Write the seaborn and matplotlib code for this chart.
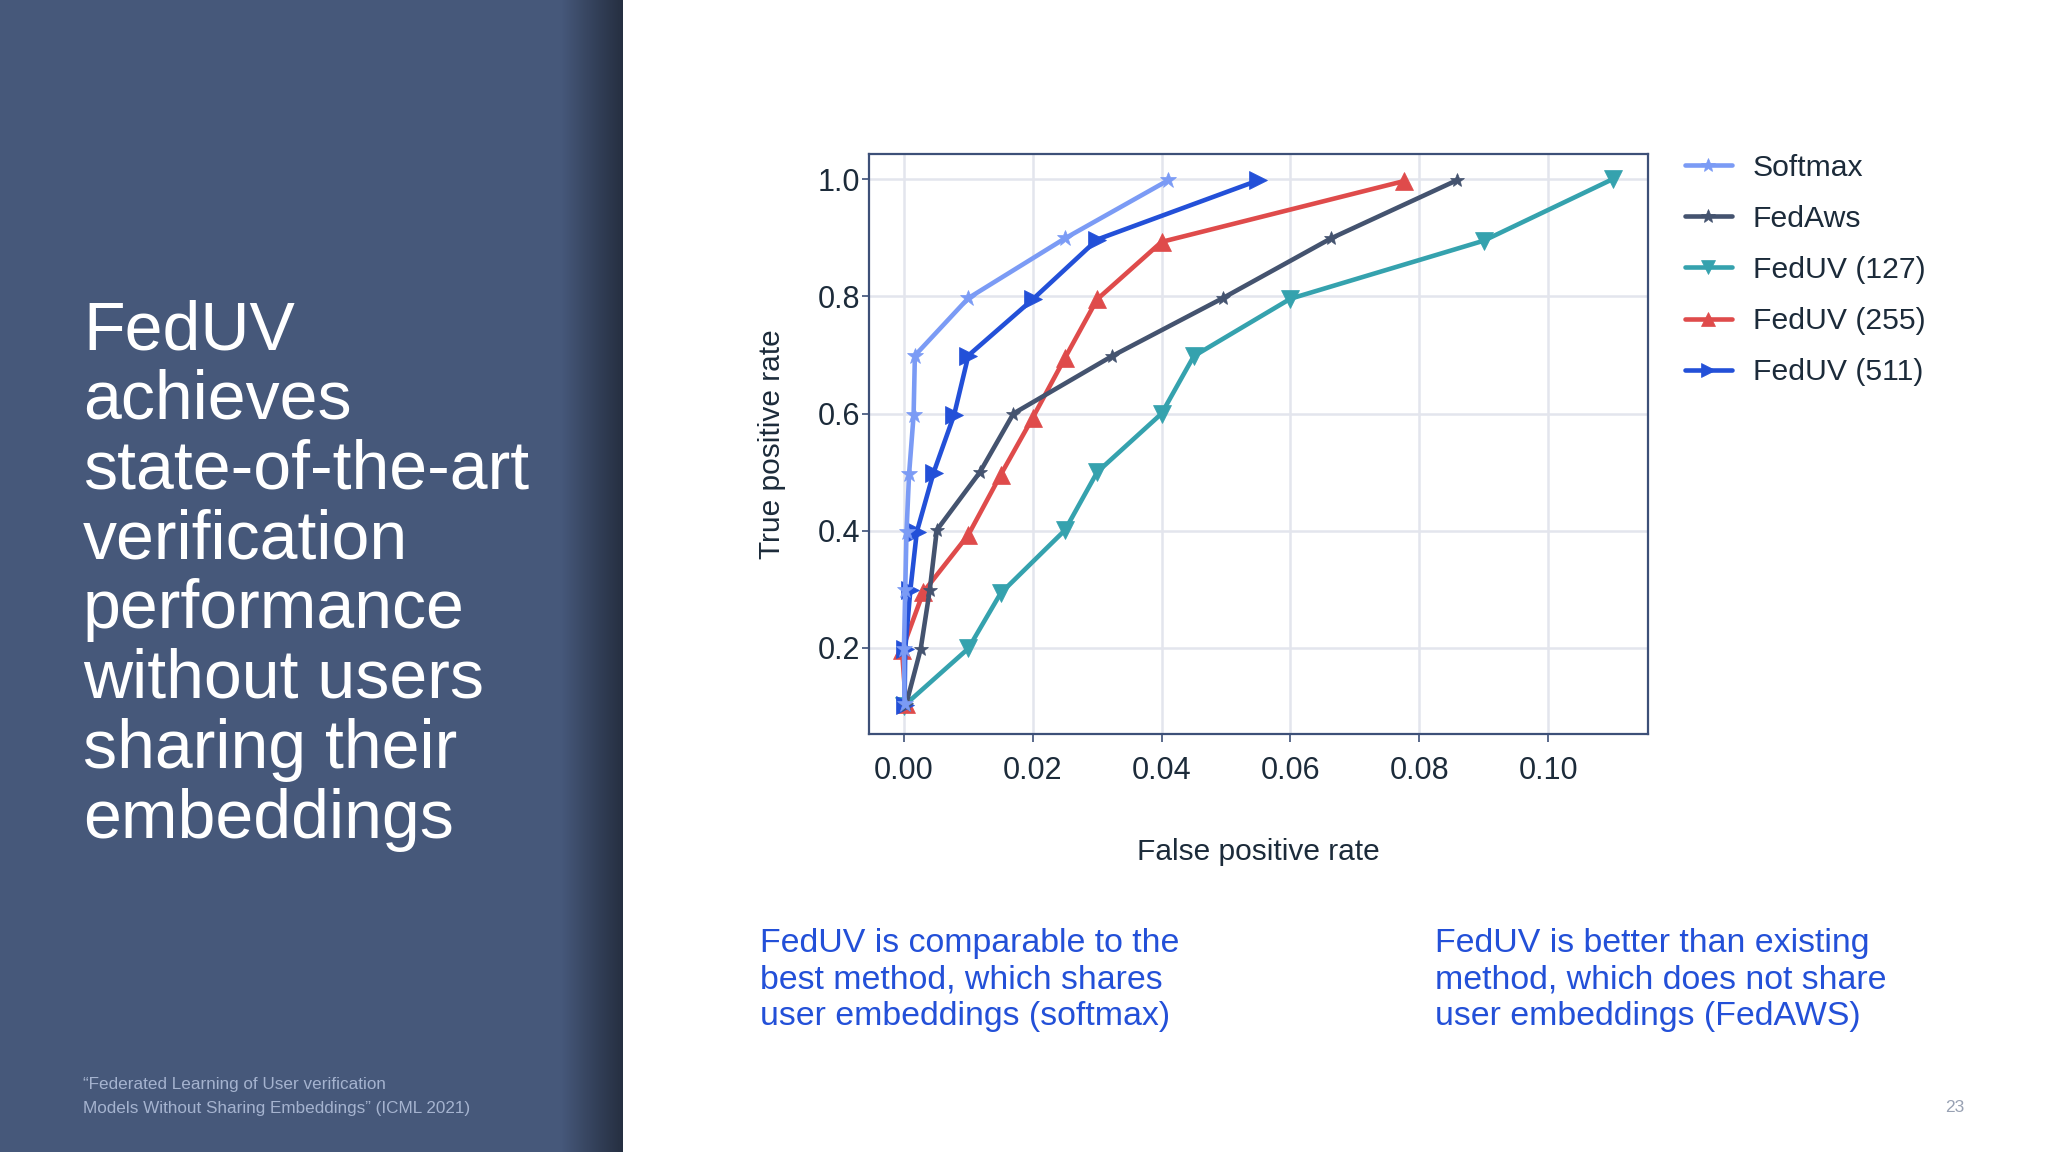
"""FedUV slide: ROC curves with a dark side panel."""

import numpy as np
import pandas as pd
import matplotlib.pyplot as plt
import seaborn as sns

FIG_W, FIG_H = 2048, 1152

# ROC points
softmax_fpr = [0.0001, 0.0000, 0.0002, 0.0004, 0.0008, 0.0015, 0.0017, 0.0100, 0.0250, 0.0410]
softmax_tpr = [0.104, 0.198, 0.298, 0.398, 0.497, 0.597, 0.699, 0.797, 0.899, 0.998]
fedaws_fpr = [0.0003, 0.0026, 0.0040, 0.0051, 0.0118, 0.0170, 0.0323, 0.0495, 0.0663, 0.0858]
fedaws_tpr = [0.102, 0.198, 0.298, 0.401, 0.500, 0.600, 0.698, 0.797, 0.899, 0.998]
feduv127_fpr = [0.0000, 0.0100, 0.0150, 0.0250, 0.0300, 0.0400, 0.0450, 0.0600, 0.0900, 0.1100]
feduv127_tpr = [0.101, 0.199, 0.293, 0.401, 0.500, 0.600, 0.698, 0.796, 0.895, 1.000]
feduv255_fpr = [0.0003, -0.0003, 0.0030, 0.0100, 0.0150, 0.0200, 0.0250, 0.0300, 0.0400, 0.0777]
feduv255_tpr = [0.104, 0.196, 0.295, 0.393, 0.495, 0.593, 0.695, 0.795, 0.893, 0.997]
feduv511_fpr = [0.0001, 0.0002, 0.0010, 0.0020, 0.0046, 0.0078, 0.0100, 0.0200, 0.0300, 0.0550]
feduv511_tpr = [0.102, 0.198, 0.299, 0.398, 0.499, 0.598, 0.699, 0.795, 0.897, 0.998]

series_names = ["Softmax", "FedAws", "FedUV (127)", "FedUV (255)", "FedUV (511)"]
series_fpr = [softmax_fpr, fedaws_fpr, feduv127_fpr, feduv255_fpr, feduv511_fpr]
series_tpr = [softmax_tpr, fedaws_tpr, feduv127_tpr, feduv255_tpr, feduv511_tpr]
series_colors = ["#7b9bf5", "#44536f", "#35a2ae", "#df4b4b", "#2350d8"]
series_markers = ["*", "*", "v", "^", ">"]
series_sizes = [12, 10.5, 12.5, 12.5, 12.5]

x_ticks = [0.00, 0.02, 0.04, 0.06, 0.08, 0.10]
y_ticks = [0.2, 0.4, 0.6, 0.8, 1.0]

title_lines = ["FedUV", "achieves", "state-of-the-art", "verification",
               "performance", "without users", "sharing their", "embeddings"]
citation_lines = ["\u201cFederated Learning of User verification",
                  "Models Without Sharing Embeddings\u201d (ICML 2021)"]
note_left = ["FedUV is comparable to the", "best method, which shares", "user embeddings (softmax)"]
note_right = ["FedUV is better than existing", "method, which does not share", "user embeddings (FedAWS)"]

TEXT_DARK = "#1c2b3a"
NOTE_BLUE = "#2350d8"
SPINE = "#3d5078"

sns.set_theme(style="whitegrid")
plt.rcParams["font.family"] = ["Liberation Sans", "DejaVu Sans"]


def fx(px):
    return px / FIG_W


def fy(px):
    return 1 - px / FIG_H


fig = plt.figure(figsize=(FIG_W / 100, FIG_H / 100), dpi=100, facecolor="white")

# Side panel, fading to a darker edge on the right
panel = fig.add_axes([0, 0, fx(623), 1])
shade = np.ones(623)
shade[561:] = np.linspace(1.0, 0.62, 62) ** 1.3
base = np.array([0x46, 0x58, 0x7a]) / 255
panel.imshow(shade[None, :, None] * base[None, None, :], aspect="auto", interpolation="nearest")
panel.axis("off")

for i, line in enumerate(title_lines):
    fig.text(fx(83), fy(349 + i * 69.8), line, color="white", fontsize=49, va="baseline")

for i, line in enumerate(citation_lines):
    fig.text(fx(83), fy(1089 + i * 24), line, color="#a5b3cf", fontsize=12.3, va="baseline")

fig.text(fx(1955), fy(1108), "23", color="#98a1b3", fontsize=12.5, ha="center", va="center")

for i in range(3):
    fig.text(fx(760), fy(952 + i * 36.6), note_left[i], color=NOTE_BLUE, fontsize=24.4, va="baseline")
    fig.text(fx(1435), fy(952 + i * 36.6), note_right[i], color=NOTE_BLUE, fontsize=24.4, va="baseline")

# ROC chart
ax = fig.add_axes([fx(868.5), fy(734), fx(779.5), (734 - 154) / FIG_H])
ax.set_facecolor("white")

# back series first, Softmax ends up on top like in the original
for idx in [2, 3, 4, 1, 0]:
    df = pd.DataFrame({"fpr": series_fpr[idx], "tpr": series_tpr[idx]})
    sns.lineplot(data=df, x="fpr", y="tpr", ax=ax, sort=False, estimator=None,
                 color=series_colors[idx], marker=series_markers[idx],
                 markersize=series_sizes[idx], markeredgecolor=series_colors[idx],
                 markeredgewidth=0.5, linewidth=3.3, label=series_names[idx], zorder=3)

ax.set_xlim(-0.0055, 0.1155)
ax.set_ylim(0.053, 1.043)
ax.set_xticks(x_ticks)
ax.set_xticklabels([f"{t:.2f}" for t in x_ticks])
ax.set_yticks(y_ticks)
ax.set_yticklabels([f"{t:.1f}" for t in y_ticks])
ax.grid(True, color="#e3e5ed", linewidth=1.8)
ax.tick_params(axis="x", length=6, width=1.2, color=SPINE, labelcolor=TEXT_DARK,
               labelsize=22, pad=10, bottom=True)
ax.tick_params(axis="y", length=5, width=1.2, color=SPINE, labelcolor=TEXT_DARK,
               labelsize=22, pad=1, left=True)
for spine in ax.spines.values():
    spine.set_color(SPINE)
    spine.set_linewidth(1.6)

ax.set_xlabel("False positive rate", fontsize=21.5, color=TEXT_DARK, va="center")
ax.set_ylabel("True positive rate", fontsize=21.5, color=TEXT_DARK, va="center")
ax.xaxis.set_label_coords(0.5, -0.203)
ax.yaxis.set_label_coords(-0.124, 0.5)

handles, labels = ax.get_legend_handles_labels()
lookup = dict(zip(labels, handles))
leg = fig.legend([lookup[n] for n in series_names], series_names, loc="upper left",
                 bbox_to_anchor=(fx(1685), fy(153.5)), frameon=False, fontsize=21.7,
                 handlelength=1.55, handletextpad=0.7, labelspacing=0.77,
                 borderaxespad=0, borderpad=0)
for text in leg.get_texts():
    text.set_color(TEXT_DARK)
for handle in leg.legend_handles:
    handle.set_markersize(10)
ax.get_legend().remove()

plt.savefig("out.png", dpi=100)
plt.close()
